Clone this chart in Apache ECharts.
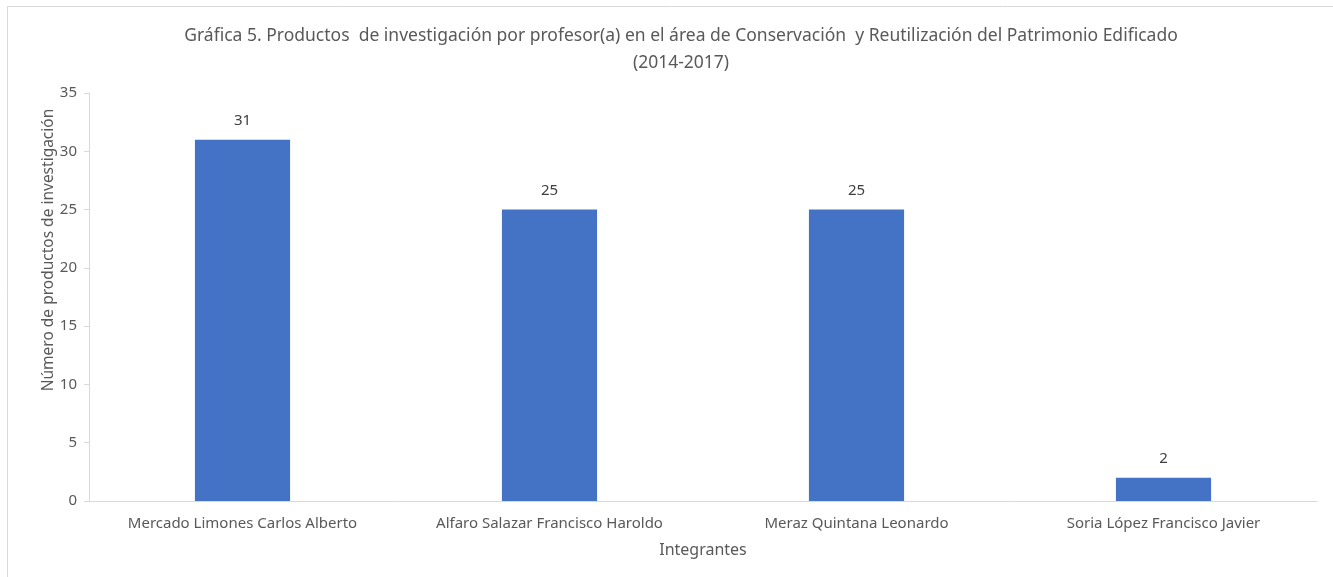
<!DOCTYPE html>
<html>
<head>
<meta charset="utf-8">
<script src="https://cdn.jsdelivr.net/npm/echarts@6/dist/echarts.min.js"></script>
<style>html,body{margin:0;padding:0;background:#fff}#c{width:1333px;height:577px}</style>
</head>
<body>
<div id="c"></div>
<script>
var titleText = "Gráfica 5. Productos  de investigación por profesor(a) en el área de Conservación  y Reutilización del Patrimonio Edificado\n(2014-2017)";
var categories = ["Mercado Limones Carlos Alberto", "Alfaro Salazar Francisco Haroldo", "Meraz Quintana Leonardo", "Soria López Francisco Javier"];
var values = [31, 25, 25, 2];
var yTicks = [0, 5, 10, 15, 20, 25, 30, 35];
var yAxisTitle = "Número de productos de investigación";
var xAxisTitle = "Integrantes";

var font = "Noto Sans";
var chart = echarts.init(document.getElementById('c'));
chart.setOption({
  animation: false,
  textStyle: {fontFamily: font},
  title: {
    text: titleText, left: 676, top: 18, textAlign: 'center',
    textStyle: {fontFamily: font, fontSize: 17.5, fontWeight: 'normal', color: '#595959', lineHeight: 27}
  },
  graphic: [
    {type: 'rect', shape: {x: 7.5, y: 6.5, width: 1400, height: 700}, style: {fill: 'none', stroke: '#d9d9d9', lineWidth: 1}, silent: true},
    {type: 'text', x: 49, y: 250, rotation: Math.PI / 2,
      style: {text: yAxisTitle, fontFamily: font, fontSize: 15.5, fill: '#595959', textAlign: 'center', textVerticalAlign: 'middle'}}
  ],
  grid: {left: 89, right: 16, top: 93, bottom: 76},
  xAxis: {
    type: 'category', data: categories,
    name: xAxisTitle, nameLocation: 'middle', nameGap: 41,
    nameTextStyle: {fontFamily: font, fontSize: 16, color: '#595959'},
    axisLine: {lineStyle: {color: '#d9d9d9'}},
    axisTick: {show: false},
    axisLabel: {fontFamily: font, fontSize: 15, color: '#595959', margin: 15, interval: 0}
  },
  yAxis: {
    type: 'value', min: yTicks[0], max: yTicks[yTicks.length - 1], interval: 5,
    axisLine: {show: true, lineStyle: {color: '#d9d9d9'}},
    axisTick: {show: true, length: 5, lineStyle: {color: '#d9d9d9'}},
    splitLine: {show: false},
    axisLabel: {fontFamily: font, fontSize: 15, color: '#595959', margin: 12}
  },
  series: [{
    type: 'bar', data: values, barWidth: '31%',
    itemStyle: {color: '#4472C4'},
    label: {show: true, position: 'top', distance: 11, fontFamily: font, fontSize: 15, color: '#404040'}
  }]
});
</script>
</body>
</html>
